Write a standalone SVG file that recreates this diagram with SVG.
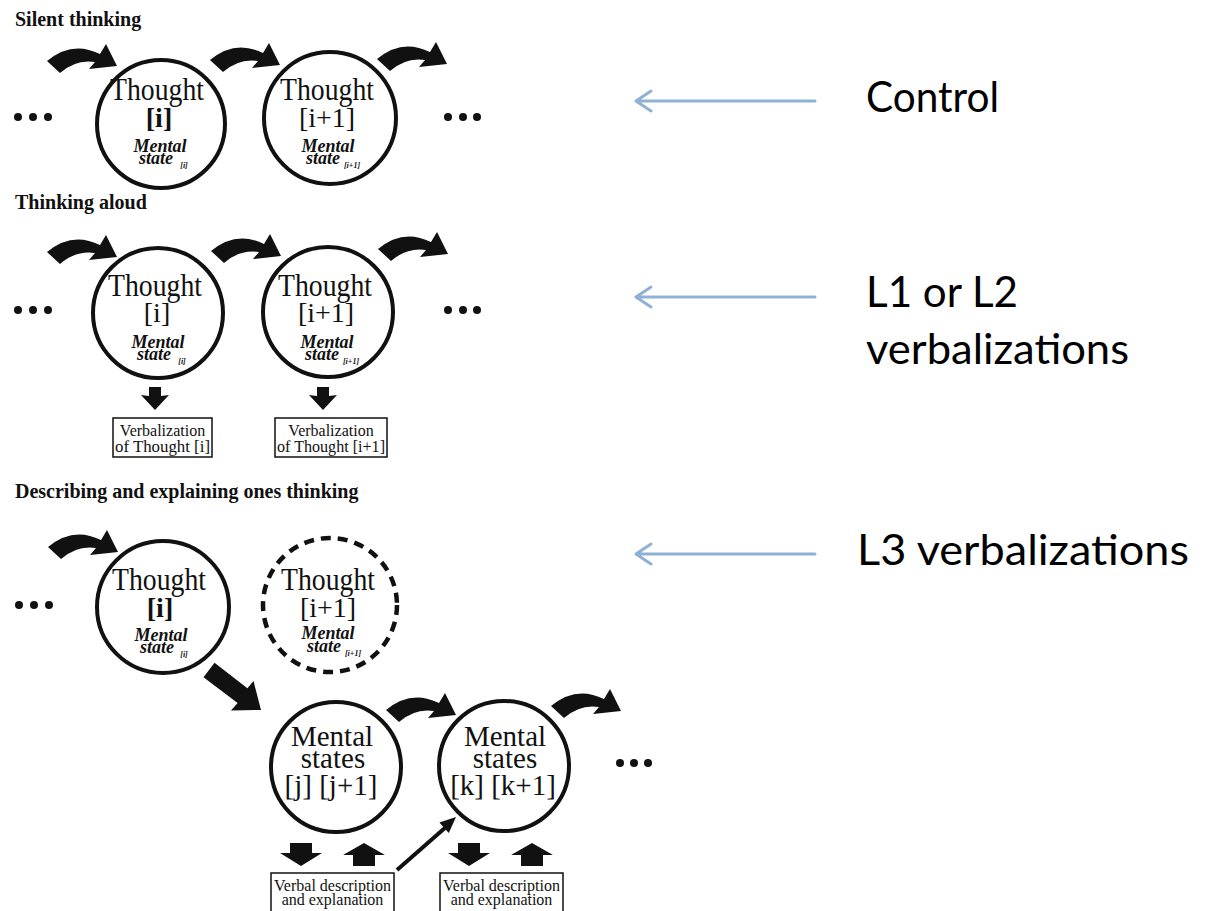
<svg xmlns="http://www.w3.org/2000/svg" xmlns:xlink="http://www.w3.org/1999/xlink" width="1210" height="911" viewBox="0 0 1210 911">
  <defs>
    <style>
      .circ { fill: none; stroke: #111; stroke-width: 4; }
      .dashed { stroke-dasharray: 10 7; stroke-width: 4.5; }
      .ink { fill: #111; }
      .ser { font-family: "Liberation Serif", "Times New Roman", serif; fill: #111; }
      .title { font-size: 20px; font-weight: bold; }
      .big { font-size: 31px; }
      .ms29 { font-size: 29px; }
      .br { font-size: 28px; }
      .ms { font-size: 18px; font-style: italic; font-weight: bold; }
      .sub { font-size: 8px; font-style: italic; font-weight: bold; }
      .mid { text-anchor: middle; }
      .box { fill: #fff; stroke: #111; stroke-width: 1.5; }
      .bt { font-size: 16px; }
      .lbl { font-family: Lato, "Liberation Sans", sans-serif; font-size: 42px; fill: #000; }
      .ptr { fill: none; stroke: #8fb1d3; stroke-width: 3; stroke-linecap: round; stroke-linejoin: round; }
    </style>
    <!-- thick curved step arrow, drawn once and reused -->
    <path id="step" d="M 47 61 Q 72 40 100 54 L 106 44 L 117 66 L 89 69 L 95 62 Q 76 59 60 73 Z"/>
    <!-- small block arrows under the nodes -->
    <path id="down" d="M -11 0 L 11 0 L 11 10 L 21 10 L 0 23 L -21 10 L -11 10 Z"/>
    <path id="up" d="M -11 23 L 11 23 L 11 12 L 21 12 L 0 0 L -21 12 L -11 12 Z"/>
    <path id="fuzzydown" d="M -6 0 L 6 0 L 6 9 L 14 8 L 0 23 L -14 8 L -6 9 Z"/>
  </defs>

  <rect width="1210" height="911" fill="#fff"/>

  <!-- section headings -->
  <g id="headings" class="ser title">
    <text x="15" y="26">Silent thinking</text>
    <text x="15" y="209">Thinking aloud</text>
    <text x="15" y="498">Describing and explaining ones thinking</text>
  </g>

  <!-- ellipses marking the continuing sequence -->
  <g id="ellipses" class="ink">
    <circle cx="18" cy="117" r="4"/><circle cx="33" cy="117" r="4"/><circle cx="48" cy="117" r="4"/>
    <circle cx="448" cy="117" r="4"/><circle cx="463" cy="117" r="4"/><circle cx="477" cy="117" r="4"/>
    <circle cx="18" cy="310" r="4"/><circle cx="33" cy="310" r="4"/><circle cx="48" cy="310" r="4"/>
    <circle cx="448" cy="310" r="4"/><circle cx="463" cy="310" r="4"/><circle cx="477" cy="310" r="4"/>
    <circle cx="19" cy="605" r="4"/><circle cx="34" cy="605" r="4"/><circle cx="49" cy="605" r="4"/>
    <circle cx="620" cy="763" r="4"/><circle cx="634" cy="763" r="4"/><circle cx="648" cy="763" r="4"/>
  </g>

  <!-- Silent thinking -->
  <g id="silent-thought-i">
    <circle class="circ" cx="161" cy="124" r="64"/>
    <text class="ser big mid" x="157" y="100" textLength="94" lengthAdjust="spacingAndGlyphs">Thought</text>
    <text class="ser br mid" x="159" y="127" font-weight="bold">[i]</text>
    <text class="ser ms mid" x="160" y="152">Mental</text>
    <text class="ser ms mid" x="156" y="164">state</text>
    <text class="ser sub mid" x="184" y="168">[i]</text>
  </g>
  <g id="silent-thought-i1">
    <circle class="circ" cx="330" cy="118" r="66"/>
    <text class="ser big mid" x="327" y="100" textLength="94" lengthAdjust="spacingAndGlyphs">Thought</text>
    <text class="ser br mid" x="327" y="127">[i+1]</text>
    <text class="ser ms mid" x="328" y="152">Mental</text>
    <text class="ser ms mid" x="323" y="164">state</text>
    <text class="ser sub mid" x="352" y="168">[i+1]</text>
  </g>

  <!-- Thinking aloud -->
  <g id="aloud-thought-i">
    <circle class="circ" cx="158" cy="313" r="65"/>
    <text class="ser big mid" x="155" y="296" textLength="94" lengthAdjust="spacingAndGlyphs">Thought</text>
    <text class="ser br mid" x="157" y="322">[i]</text>
    <text class="ser ms mid" x="158" y="348">Mental</text>
    <text class="ser ms mid" x="154" y="360">state</text>
    <text class="ser sub mid" x="182" y="364">[i]</text>
  </g>
  <g id="aloud-thought-i1">
    <circle class="circ" cx="328" cy="312" r="65"/>
    <text class="ser big mid" x="325" y="296" textLength="94" lengthAdjust="spacingAndGlyphs">Thought</text>
    <text class="ser br mid" x="326" y="322">[i+1]</text>
    <text class="ser ms mid" x="327" y="348">Mental</text>
    <text class="ser ms mid" x="322" y="360">state</text>
    <text class="ser sub mid" x="351" y="364">[i+1]</text>
  </g>
  <g id="aloud-verbal-i">
    <rect class="box" x="113" y="418" width="99" height="39"/>
    <text class="ser bt mid" x="162.5" y="436">Verbalization</text>
    <text class="ser bt mid" x="162.5" y="452" textLength="95" lengthAdjust="spacingAndGlyphs">of Thought [i]</text>
  </g>
  <g id="aloud-verbal-i1">
    <rect class="box" x="275" y="418" width="112" height="39"/>
    <text class="ser bt mid" x="331" y="436">Verbalization</text>
    <text class="ser bt mid" x="331" y="452" textLength="108" lengthAdjust="spacingAndGlyphs">of Thought [i+1]</text>
  </g>

  <!-- Describing and explaining -->
  <g id="describe-thought-i">
    <circle class="circ" cx="163" cy="607" r="66"/>
    <text class="ser big mid" x="159" y="590" textLength="94" lengthAdjust="spacingAndGlyphs">Thought</text>
    <text class="ser br mid" x="160" y="617" font-weight="bold">[i]</text>
    <text class="ser ms mid" x="161" y="641">Mental</text>
    <text class="ser ms mid" x="157" y="653">state</text>
    <text class="ser sub mid" x="184" y="657">[i]</text>
  </g>
  <g id="describe-thought-i1">
    <circle class="circ dashed" cx="330" cy="605" r="67"/>
    <text class="ser big mid" x="328" y="590" textLength="94" lengthAdjust="spacingAndGlyphs">Thought</text>
    <text class="ser br mid" x="328" y="617">[i+1]</text>
    <text class="ser ms mid" x="328" y="639">Mental</text>
    <text class="ser ms mid" x="324" y="652">state</text>
    <text class="ser sub mid" x="353" y="656">[i+1]</text>
  </g>
  <g id="describe-states-j">
    <circle class="circ" cx="336" cy="767" r="65"/>
    <text class="ser ms29 mid" x="332" y="746">Mental</text>
    <text class="ser ms29 mid" x="333" y="768">states</text>
    <text class="ser ms29 mid" x="331" y="795">[j] [j+1]</text>
  </g>
  <g id="describe-states-k">
    <circle class="circ" cx="504" cy="766" r="65"/>
    <text class="ser ms29 mid" x="505" y="746">Mental</text>
    <text class="ser ms29 mid" x="505" y="768">states</text>
    <text class="ser ms29 mid" x="503" y="795">[k] [k+1]</text>
  </g>
  <g id="describe-verbal-j">
    <rect class="box" x="271" y="873" width="123" height="44"/>
    <text class="ser bt mid" x="332.5" y="891">Verbal description</text>
    <text class="ser bt mid" x="332.5" y="905">and explanation</text>
  </g>
  <g id="describe-verbal-k">
    <rect class="box" x="440" y="873" width="123" height="44"/>
    <text class="ser bt mid" x="501.5" y="891">Verbal description</text>
    <text class="ser bt mid" x="501.5" y="905">and explanation</text>
  </g>

  <!-- connectors -->
  <g id="connectors" class="ink">
    <use xlink:href="#step"/>
    <use xlink:href="#step" transform="translate(163,-1)"/>
    <use xlink:href="#step" transform="translate(330,-2)"/>
    <use xlink:href="#step" transform="translate(0,191)"/>
    <use xlink:href="#step" transform="translate(164,190)"/>
    <use xlink:href="#step" transform="translate(331,188)"/>
    <use xlink:href="#step" transform="translate(1,486)"/>
    <use xlink:href="#step" transform="translate(339,649)"/>
    <use xlink:href="#step" transform="translate(504,645)"/>

    <use xlink:href="#fuzzydown" transform="translate(155,387)"/>
    <use xlink:href="#fuzzydown" transform="translate(323,387)"/>

    <!-- thought [i] feeds the mental states -->
    <polygon points="214.5,662.8 247.4,688.2 253.5,681 261,710 231,710.5 237.6,703 203.5,677.2"/>

    <use xlink:href="#down" transform="translate(301,843)"/>
    <use xlink:href="#up" transform="translate(364,843)"/>
    <use xlink:href="#down" transform="translate(469,843)"/>
    <use xlink:href="#up" transform="translate(532,843)"/>

    <!-- explanation feeding back into the next states -->
    <line x1="397" y1="870" x2="446" y2="827" stroke="#111" stroke-width="4"/>
    <polygon points="456,817 448.8,832.9 439.4,822.5"/>
  </g>

  <!-- condition labels -->
  <g id="pointers" class="ptr">
    <path d="M 815 101 L 636 101 M 651 91 L 636 101 L 651 111"/>
    <path d="M 815 297 L 636 297 M 651 287 L 636 297 L 651 307"/>
    <path d="M 815 554 L 636 554 M 651 544 L 636 554 L 651 564"/>
  </g>
  <g id="labels" class="lbl">
    <text x="866" y="112" textLength="133" lengthAdjust="spacingAndGlyphs">Control</text>
    <text x="866" y="307" textLength="152" lengthAdjust="spacingAndGlyphs">L1 or L2</text>
    <text x="866" y="364" textLength="263" lengthAdjust="spacingAndGlyphs">verbalizations</text>
    <text x="857" y="565" textLength="332" lengthAdjust="spacingAndGlyphs">L3 verbalizations</text>
  </g>
</svg>
